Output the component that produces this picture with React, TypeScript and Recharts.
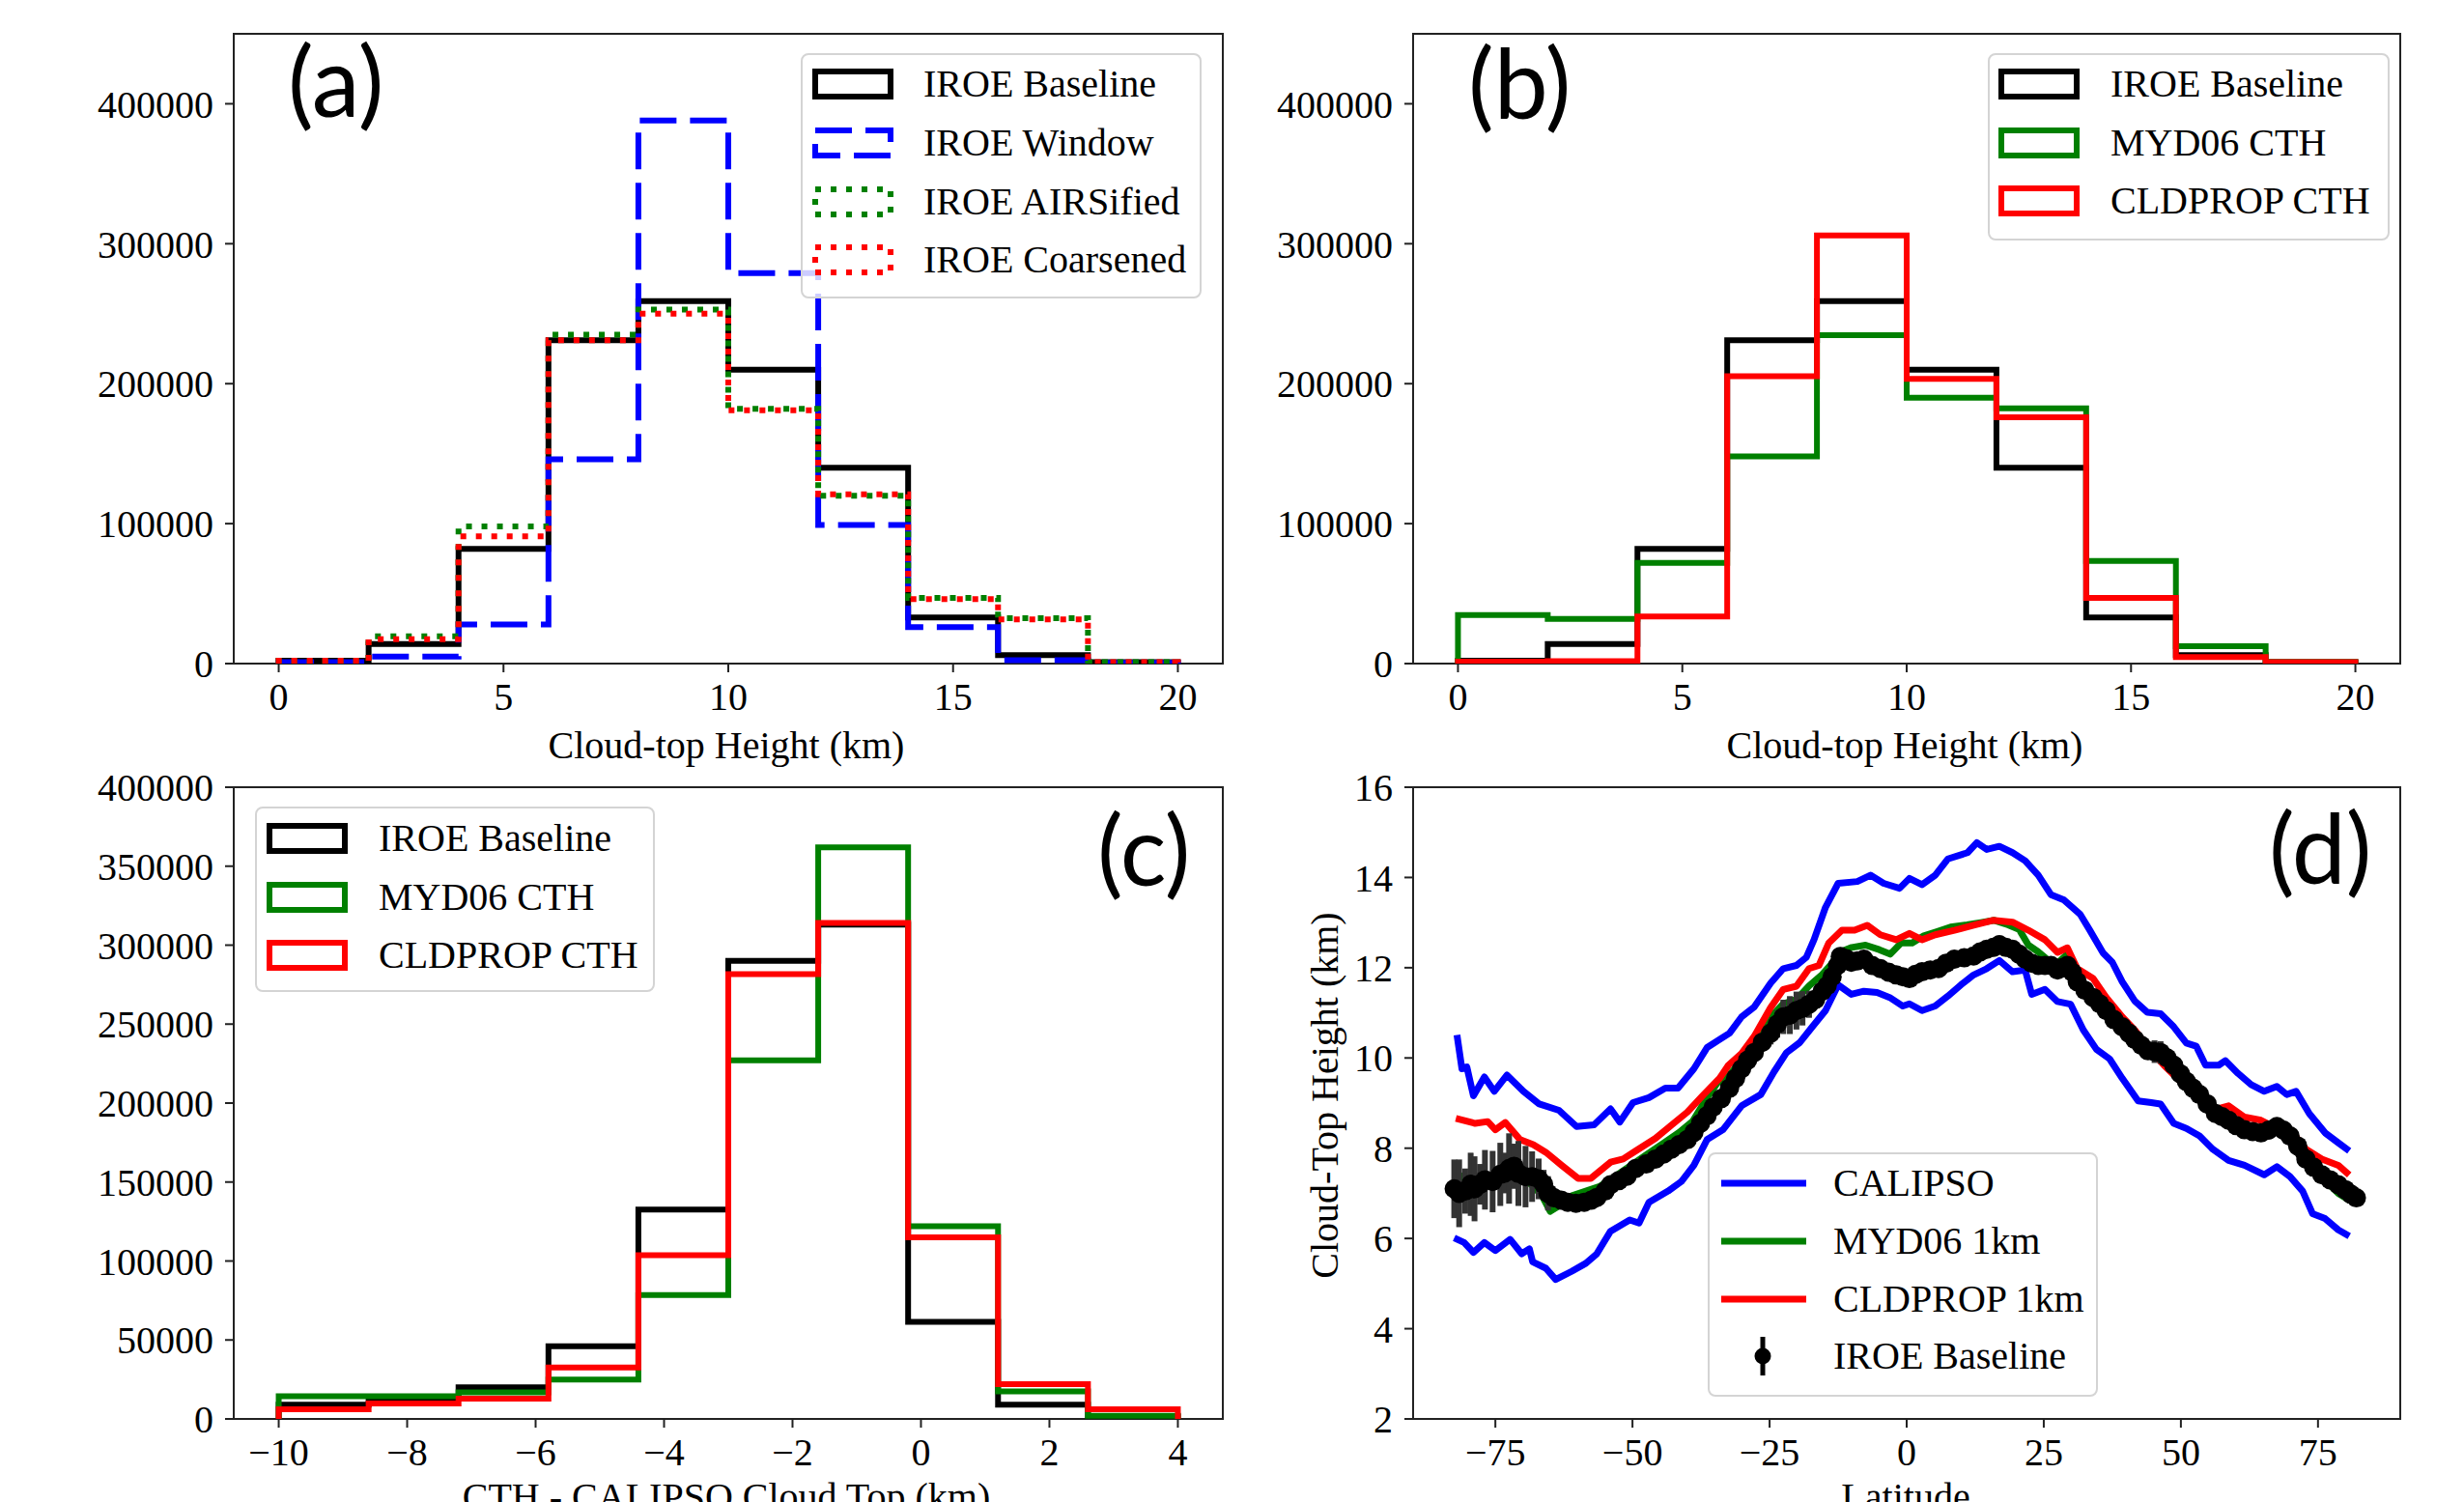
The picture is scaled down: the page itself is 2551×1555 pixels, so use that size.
import React from "react";
import { LineChart, Line, XAxis, YAxis, ReferenceArea, ErrorBar } from "recharts";

const SERIF = '"Liberation Serif", "Times New Roman", serif';
const SANS = 'Lato, "Open Sans", sans-serif';
const AXIS = "#222";

// ---- panels (a) and (b): cloud-top height histograms, 2 km bins ----
const heightEdges = [0, 2, 4, 6, 8, 10, 12, 14, 16, 18, 20];
const iroeBaseline = [2000, 14000, 82000, 231000, 259000, 210000, 140000, 33000, 6000, 1000];
const iroeWindow = [1000, 5000, 28000, 146000, 388000, 279000, 99000, 26000, 2500, 500];
const iroeAirsified = [2000, 19500, 98000, 235000, 253000, 182000, 120000, 47000, 32500, 1000];
const iroeCoarsened = [2000, 17500, 91000, 231000, 250000, 181000, 121000, 46000, 31500, 1000];
const myd06Cth = [34700, 31900, 71900, 148000, 234700, 190000, 182300, 73300, 12400, 1000];
const cldpropCth = [1400, 1800, 33600, 205300, 306000, 203500, 176000, 47000, 4600, 1000];

// ---- panel (c): CTH minus CALIPSO ----
const diffEdges = [-10, -8.6, -7.2, -5.8, -4.4, -3.0, -1.6, -0.2, 1.2, 2.6, 4.0];
const diffBaseline = [9000, 13000, 20000, 46000, 132500, 290000, 313000, 61500, 9000, 1500];
const diffMyd06 = [14300, 14300, 16800, 25000, 78400, 227000, 362000, 122000, 17400, 2000];
const diffCldprop = [6100, 9800, 12800, 32600, 103700, 281700, 314000, 115000, 22000, 6100];

// ---- ticks ----
const heightTicks = [0, 5, 10, 15, 20];
const countTicksAB = [0, 100000, 200000, 300000, 400000];
const diffTicks = [-10, -8, -6, -4, -2, 0, 2, 4];
const countTicksC = [0, 50000, 100000, 150000, 200000, 250000, 300000, 350000, 400000];
const latTicks = [-75, -50, -25, 0, 25, 50, 75];
const cthTicks = [2, 4, 6, 8, 10, 12, 14, 16];

// ---- panel (d): zonal mean cloud-top height, [latitude, km] ----
const calipsoUpper: [number, number][] = [
  [-82.0, 10.51], [-81.1, 9.76], [-80.2, 9.8], [-79.0, 9.16], [-77.0, 9.58], [-75.2, 9.26],
  [-72.9, 9.62], [-69.9, 9.26], [-67.0, 8.98], [-63.4, 8.84], [-60.2, 8.48], [-57.0, 8.52],
  [-54.0, 8.87], [-52.3, 8.58], [-49.9, 9.01], [-47.0, 9.12], [-44.0, 9.33], [-41.7, 9.33],
  [-38.8, 9.76], [-36.4, 10.23], [-32.3, 10.55], [-30.1, 10.91], [-27.8, 11.13], [-24.8, 11.66],
  [-22.5, 11.98], [-20.1, 12.05], [-18.3, 12.23], [-16.9, 12.62], [-14.8, 13.34], [-12.5, 13.87],
  [-9.0, 13.91], [-6.6, 14.05], [-4.2, 13.87], [-1.3, 13.76], [0.5, 13.98], [2.8, 13.84],
  [5.2, 14.05], [7.5, 14.41], [11.1, 14.55], [12.8, 14.77], [14.6, 14.62], [16.9, 14.69],
  [19.3, 14.55], [21.6, 14.37], [24.0, 14.05], [26.3, 13.62], [28.7, 13.5], [31.6, 13.19],
  [33.4, 12.83], [35.8, 12.33], [37.5, 12.12], [39.3, 11.69], [41.6, 11.26], [43.9, 11.01],
  [46.3, 10.98], [48.7, 10.69], [51.0, 10.33], [52.8, 10.26], [54.5, 9.84], [56.9, 9.84],
  [58.1, 9.94], [60.4, 9.66], [62.8, 9.41], [65.2, 9.26], [67.5, 9.37], [69.3, 9.19],
  [71.0, 9.26], [73.4, 8.77], [76.3, 8.34], [78.7, 8.12], [80.7, 7.94],
];
const calipsoLower: [number, number][] = [
  [-82.5, 6.01], [-80.7, 5.91], [-79.0, 5.69], [-77.0, 5.91], [-75.0, 5.73], [-72.3, 5.98],
  [-70.2, 5.66], [-68.8, 5.77], [-68.2, 5.48], [-65.8, 5.34], [-64.0, 5.09], [-61.1, 5.27],
  [-58.5, 5.45], [-56.5, 5.66], [-54.0, 6.16], [-50.5, 6.41], [-48.8, 6.34], [-47.0, 6.8],
  [-43.5, 7.05], [-41.1, 7.26], [-38.8, 7.62], [-36.4, 8.19], [-33.5, 8.41], [-30.1, 8.94],
  [-26.6, 9.19], [-24.2, 9.69], [-21.9, 10.12], [-19.5, 10.34], [-17.2, 10.69], [-14.8, 11.05],
  [-12.5, 11.62], [-10.1, 11.41], [-7.8, 11.48], [-5.4, 11.45], [-3.1, 11.34], [-0.7, 11.15],
  [0.5, 11.2], [2.8, 11.05], [5.2, 11.15], [7.5, 11.37], [9.9, 11.62], [12.2, 11.84],
  [14.6, 11.98], [16.9, 12.16], [19.3, 11.91], [21.6, 11.95], [22.8, 11.41], [25.2, 11.52],
  [27.5, 11.25], [29.9, 11.19], [32.2, 10.62], [34.6, 10.19], [37.0, 9.98], [39.3, 9.55],
  [42.2, 9.05], [44.6, 9.01], [46.3, 8.98], [48.7, 8.55], [51.0, 8.44], [53.4, 8.27],
  [55.8, 7.98], [58.7, 7.73], [61.6, 7.62], [65.2, 7.41], [67.5, 7.59], [69.9, 7.37],
  [72.2, 7.05], [74.0, 6.55], [76.3, 6.44], [78.7, 6.19], [80.7, 6.05],
];
const myd06Lat: [number, number][] = [
  [-82.3, 7.45], [-80.0, 7.3], [-77.5, 7.15], [-75.5, 7.25], [-73.0, 7.15], [-70.5, 7.3],
  [-68.5, 7.2], [-66.5, 6.95], [-65.0, 6.6], [-63.0, 6.75], [-61.0, 6.95], [-58.5, 7.05],
  [-56.0, 7.15], [-53.5, 7.35], [-50.5, 7.6], [-47.5, 7.85], [-44.5, 8.1], [-41.5, 8.35],
  [-39.0, 8.6], [-36.5, 9.1], [-34.5, 9.45], [-32.5, 9.6], [-30.1, 9.95], [-27.8, 10.35],
  [-24.8, 10.9], [-22.5, 11.2], [-20.1, 11.3], [-17.8, 11.6], [-15.4, 11.85], [-13.6, 12.1],
  [-12.1, 12.35], [-10.0, 12.45], [-7.5, 12.5], [-5.0, 12.4], [-3.0, 12.3], [-1.0, 12.55],
  [1.0, 12.55], [3.0, 12.7], [5.5, 12.8], [8.0, 12.9], [11.0, 12.95], [13.5, 13.0],
  [16.0, 13.05], [18.5, 12.95], [20.5, 12.85], [22.2, 12.5], [24.0, 12.35], [26.0, 12.15],
  [27.5, 12.1], [29.3, 12.3], [31.1, 11.8], [34.0, 11.4], [36.4, 11.1], [39.3, 10.75],
  [41.6, 10.45], [44.0, 10.2], [46.9, 9.9], [49.9, 9.5], [52.8, 9.2], [55.8, 8.8],
  [58.7, 8.7], [61.6, 8.5], [64.6, 8.4], [67.5, 8.45], [70.4, 8.25], [72.8, 7.75],
  [75.7, 7.35], [78.7, 7.0], [80.7, 6.85], [82.0, 6.8],
];
const cldpropLat: [number, number][] = [
  [-82.2, 8.66], [-78.7, 8.55], [-76.4, 8.59], [-75.0, 8.41], [-73.2, 8.57], [-70.5, 8.19],
  [-68.1, 8.08], [-65.8, 7.91], [-62.9, 7.62], [-59.9, 7.33], [-57.6, 7.33], [-54.0, 7.69],
  [-51.7, 7.76], [-49.4, 7.94], [-45.8, 8.22], [-42.9, 8.51], [-40.0, 8.8], [-37.0, 9.19],
  [-34.1, 9.55], [-32.5, 9.84], [-30.1, 10.1], [-27.8, 10.48], [-24.8, 11.12], [-22.5, 11.52],
  [-20.1, 11.59], [-17.8, 11.98], [-16.0, 12.05], [-14.2, 12.55], [-11.8, 12.83], [-9.5, 12.83],
  [-7.2, 12.94], [-4.8, 12.73], [-1.9, 12.62], [0.5, 12.76], [2.8, 12.62], [5.2, 12.73],
  [8.7, 12.83], [12.2, 12.94], [15.7, 13.05], [19.3, 13.01], [22.2, 12.83], [25.2, 12.62],
  [27.5, 12.34], [29.3, 12.44], [31.1, 11.98], [34.0, 11.76], [36.4, 11.34], [39.3, 10.91],
  [41.6, 10.62], [44.0, 10.23], [46.9, 9.84], [49.9, 9.48], [52.8, 9.19], [55.8, 8.84],
  [58.7, 8.94], [61.6, 8.69], [64.6, 8.62], [67.5, 8.44], [70.4, 8.34], [72.8, 7.98],
  [75.7, 7.76], [78.7, 7.62], [80.7, 7.41],
];
// [latitude, km, error half-width]
const iroeLat: [number, number, number][] = [
  [-82.5, 7.1, 0.65], [-81.6, 7.0, 0.75], [-80.5, 7.05, 0.5], [-79.5, 7.2, 0.7], [-78.8, 7.1, 0.72],
  [-77.8, 7.2, 0.45], [-76.9, 7.3, 0.66], [-75.5, 7.26, 0.68], [-74.1, 7.42, 0.7], [-73.3, 7.45, 0.45],
  [-72.5, 7.55, 0.78], [-71.6, 7.6, 0.5], [-70.8, 7.44, 0.72], [-69.5, 7.37, 0.68], [-68.3, 7.37, 0.56],
  [-67.1, 7.32, 0.45], [-66.2, 7.2, 0.32], [-65.4, 7.0, 0.38], [-64.3, 6.9, 0.2], [-63.0, 6.85, 0.15],
  [-61.8, 6.8, 0.12], [-60.3, 6.78, 0.1], [-58.8, 6.8, 0.1], [-57.5, 6.85, 0.1], [-56.5, 6.91, 0.1],
  [-55.0, 7.05, 0.1], [-54.0, 7.19, 0.1], [-52.5, 7.28, 0.1], [-51.0, 7.38, 0.1], [-49.4, 7.55, 0.1],
  [-47.5, 7.65, 0.1], [-45.8, 7.76, 0.1], [-44.3, 7.87, 0.1], [-42.9, 7.98, 0.1], [-41.5, 8.08, 0.1],
  [-40.0, 8.19, 0.1], [-38.8, 8.35, 0.12], [-37.6, 8.55, 0.12], [-36.4, 8.72, 0.12], [-35.3, 8.91, 0.12],
  [-33.8, 9.1, 0.15], [-32.3, 9.33, 0.15], [-31.2, 9.55, 0.2], [-30.1, 9.76, 0.2], [-29.0, 9.95, 0.2],
  [-27.8, 10.12, 0.2], [-26.3, 10.35, 0.2], [-24.8, 10.55, 0.25], [-23.6, 10.75, 0.3], [-22.5, 10.91, 0.38],
  [-21.3, 10.95, 0.42], [-20.1, 11.05, 0.42], [-19.0, 11.1, 0.38], [-17.8, 11.19, 0.3], [-16.6, 11.3, 0.2],
  [-15.4, 11.48, 0.2], [-14.5, 11.6, 0.2], [-13.6, 11.8, 0.2], [-12.6, 12.05, 0.2], [-12.1, 12.25, 0.2],
  [-11.0, 12.2, 0.15], [-10.1, 12.12, 0.15], [-9.0, 12.15, 0.15], [-7.8, 12.19, 0.15], [-6.3, 12.05, 0.15],
  [-4.8, 11.98, 0.15], [-3.3, 11.9, 0.15], [-1.9, 11.84, 0.15], [-0.7, 11.8, 0.15], [0.5, 11.76, 0.15],
  [1.6, 11.85, 0.12], [2.8, 11.91, 0.1], [4.3, 11.95, 0.1], [5.8, 11.98, 0.1], [7.2, 12.1, 0.1],
  [8.7, 12.19, 0.1], [10.5, 12.22, 0.12], [12.2, 12.26, 0.15], [13.4, 12.35, 0.15], [14.6, 12.41, 0.15],
  [15.8, 12.45, 0.2], [16.9, 12.51, 0.2], [18.1, 12.45, 0.15], [19.3, 12.41, 0.15], [20.5, 12.3, 0.1],
  [21.6, 12.19, 0.1], [22.8, 12.1, 0.1], [24.0, 12.05, 0.1], [25.2, 12.05, 0.1], [26.3, 12.05, 0.15],
  [27.5, 11.95, 0.15], [28.4, 12.0, 0.1], [29.3, 12.05, 0.1], [30.2, 11.9, 0.1], [31.1, 11.69, 0.1],
  [32.5, 11.5, 0.1], [34.0, 11.34, 0.1], [35.2, 11.2, 0.1], [36.4, 11.05, 0.1], [37.8, 10.85, 0.1],
  [39.3, 10.69, 0.1], [40.5, 10.55, 0.1], [41.6, 10.41, 0.1], [42.8, 10.28, 0.12], [44.0, 10.16, 0.15],
  [45.2, 10.14, 0.25], [46.3, 10.12, 0.25], [47.5, 10.0, 0.2], [48.7, 9.84, 0.2], [49.9, 9.65, 0.2],
  [51.0, 9.48, 0.15], [52.2, 9.33, 0.15], [53.4, 9.19, 0.15], [54.8, 8.98, 0.1], [56.3, 8.77, 0.1],
  [57.5, 8.7, 0.1], [58.7, 8.62, 0.1], [60.1, 8.5, 0.1], [61.6, 8.41, 0.1], [63.1, 8.37, 0.1],
  [64.6, 8.34, 0.15], [66.0, 8.4, 0.2], [67.5, 8.48, 0.2], [68.7, 8.4, 0.2], [69.9, 8.27, 0.15],
  [71.3, 8.05, 0.1], [72.8, 7.76, 0.1], [74.2, 7.58, 0.1], [75.7, 7.41, 0.1], [77.2, 7.3, 0.1],
  [78.7, 7.19, 0.1], [80.0, 7.08, 0.1], [81.0, 6.98, 0.1], [82.0, 6.9, 0.1],
];

type Pt = { x: number; y: number; err?: number };

// histtype="step" outline: up from zero at the first edge, down to zero at the last
function stepOutline(edges: number[], counts: number[]): Pt[] {
  const pts: Pt[] = [{ x: edges[0], y: 0 }];
  counts.forEach((c, i) => pts.push({ x: edges[i], y: c }));
  const last = edges[edges.length - 1];
  pts.push({ x: last, y: counts[counts.length - 1] });
  pts.push({ x: last, y: 0 });
  return pts;
}

const toPts = (arr: [number, number][]): Pt[] => arr.map(([x, y]) => ({ x, y }));

type Box = { x: number; y: number; w: number; h: number };

const tickStyle = { fontSize: 40, fontFamily: SERIF, fill: "#000" };
const minus = (v: number) => String(v).replace("-", "\u2212");

const YW = 190;
const MT = 30;
const MR = 40;
const XH = 90;

function Panel({
  box,
  xDomain,
  xTicks,
  yDomain,
  yTicks,
  children,
}: {
  box: Box;
  xDomain: [number, number];
  xTicks: number[];
  yDomain: [number, number];
  yTicks: number[];
  children: React.ReactNode;
}) {
  return (
    <div style={{ position: "absolute", left: box.x - YW, top: box.y - MT }}>
      <LineChart
        width={YW + box.w + MR}
        height={MT + box.h + XH}
        margin={{ top: MT, right: MR, left: 0, bottom: 0 }}
      >
        <XAxis
          type="number"
          dataKey="x"
          domain={xDomain}
          ticks={xTicks}
          interval={0}
          allowDataOverflow
          axisLine={false}
          tickLine={{ stroke: AXIS, strokeWidth: 2 }}
          tickSize={9}
          tickMargin={11}
          tick={tickStyle}
          tickFormatter={minus}
          height={XH}
        />
        <YAxis
          type="number"
          domain={yDomain}
          ticks={yTicks}
          interval={0}
          allowDataOverflow
          axisLine={false}
          tickLine={{ stroke: AXIS, strokeWidth: 2 }}
          tickSize={9}
          tickMargin={12}
          tick={tickStyle}
          width={YW}
        />
        {children}
        <ReferenceArea
          x1={xDomain[0]}
          x2={xDomain[1]}
          y1={yDomain[0]}
          y2={yDomain[1]}
          fill="none"
          fillOpacity={0}
          stroke={AXIS}
          strokeWidth={2}
          ifOverflow="visible"
        />
      </LineChart>
    </div>
  );
}

function histLine(key: string, edges: number[], counts: number[], color: string, dash?: string) {
  return (
    <Line
      key={key}
      data={stepOutline(edges, counts)}
      dataKey="y"
      type="stepAfter"
      stroke={color}
      strokeWidth={6}
      strokeDasharray={dash}
      dot={false}
      activeDot={false}
      isAnimationActive={false}
    />
  );
}

function latLine(key: string, arr: [number, number][], color: string) {
  return (
    <Line
      key={key}
      data={toPts(arr)}
      dataKey="y"
      type="linear"
      stroke={color}
      strokeWidth={7}
      strokeLinejoin="round"
      dot={false}
      activeDot={false}
      isAnimationActive={false}
    />
  );
}

const patchIcon = (color: string, dash?: string) => (
  <svg width={84} height={32}>
    <rect x={3} y={3} width={78} height={26} fill="none" stroke={color} strokeWidth={6} strokeDasharray={dash} />
  </svg>
);
const lineIcon = (color: string) => (
  <svg width={88} height={10}>
    <line x1={0} x2={88} y1={5} y2={5} stroke={color} strokeWidth={7} />
  </svg>
);
const markerIcon = (
  <svg width={88} height={44}>
    <line x1={43} x2={43} y1={2} y2={42} stroke="#000" strokeWidth={5} />
    <circle cx={43} cy={22} r={8.5} fill="#000" />
  </svg>
);

function LegendBox({
  box,
  iconX,
  textX,
  rows,
  items,
}: {
  box: Box;
  iconX: number;
  textX: number;
  rows: number[];
  items: { label: string; icon: React.ReactNode }[];
}) {
  return (
    <div
      style={{
        position: "absolute",
        left: box.x,
        top: box.y,
        width: box.w,
        height: box.h,
        boxSizing: "border-box",
        border: "2px solid #d4d4d4",
        borderRadius: 8,
        background: "rgba(255,255,255,0.8)",
      }}
    >
      {items.map((it, i) => (
        <React.Fragment key={it.label}>
          <div
            style={{
              position: "absolute",
              left: iconX - box.x - 2,
              top: rows[i] - box.y - 2 - 25,
              height: 50,
              display: "flex",
              alignItems: "center",
            }}
          >
            {it.icon}
          </div>
          <div
            style={{
              position: "absolute",
              left: textX - box.x - 2,
              top: rows[i] - box.y - 2 - 20,
              height: 40,
              lineHeight: "40px",
              fontFamily: SERIF,
              fontSize: 40,
              whiteSpace: "nowrap",
              color: "#000",
            }}
          >
            {it.label}
          </div>
        </React.Fragment>
      ))}
    </div>
  );
}

function Text({ x, y, size, font, children, center }: { x: number; y: number; size: number; font: string; children: React.ReactNode; center?: boolean }) {
  return (
    <div
      style={{
        position: "absolute",
        left: x,
        top: y,
        fontFamily: font,
        fontSize: size,
        lineHeight: 1,
        whiteSpace: "nowrap",
        color: "#000",
        transform: center ? "translateX(-50%)" : undefined,
      }}
    >
      {children}
    </div>
  );
}

const boxA: Box = { x: 242, y: 35, w: 1024, h: 652 };
const boxB: Box = { x: 1463, y: 35, w: 1022, h: 652 };
const boxC: Box = { x: 242, y: 815, w: 1024, h: 654 };
const boxD: Box = { x: 1463, y: 815, w: 1022, h: 654 };

export default function App() {
  const errPts: Pt[] = iroeLat.map(([x, y, err]) => ({ x, y, err }));
  return (
    <div
      style={{
        position: "absolute",
        left: 0,
        top: 0,
        width: 2551,
        height: 1555,
        overflow: "hidden",
        background: "#fff",
      }}
    >
      <Panel box={boxA} xDomain={[-1, 21]} xTicks={heightTicks} yDomain={[0, 450000]} yTicks={countTicksAB}>
        {histLine("a-base", heightEdges, iroeBaseline, "#000")}
        {histLine("a-win", heightEdges, iroeWindow, "#0000ff", "38 14")}
        {histLine("a-airs", heightEdges, iroeAirsified, "#008000", "6 10")}
        {histLine("a-coarse", heightEdges, iroeCoarsened, "#ff0000", "6 10")}
      </Panel>
      <Panel box={boxB} xDomain={[-1, 21]} xTicks={heightTicks} yDomain={[0, 450000]} yTicks={countTicksAB}>
        {histLine("b-base", heightEdges, iroeBaseline, "#000")}
        {histLine("b-myd", heightEdges, myd06Cth, "#008000")}
        {histLine("b-cld", heightEdges, cldpropCth, "#ff0000")}
      </Panel>
      <Panel box={boxC} xDomain={[-10.7, 4.7]} xTicks={diffTicks} yDomain={[0, 400000]} yTicks={countTicksC}>
        {histLine("c-base", diffEdges, diffBaseline, "#000")}
        {histLine("c-myd", diffEdges, diffMyd06, "#008000")}
        {histLine("c-cld", diffEdges, diffCldprop, "#ff0000")}
      </Panel>
      <Panel box={boxD} xDomain={[-90, 90]} xTicks={latTicks} yDomain={[2, 16]} yTicks={cthTicks}>
        {latLine("d-up", calipsoUpper, "#0000ff")}
        {latLine("d-lo", calipsoLower, "#0000ff")}
        {latLine("d-myd", myd06Lat, "#008000")}
        {latLine("d-cld", cldpropLat, "#ff0000")}
        <Line
          key="d-err"
          data={errPts}
          dataKey="y"
          stroke="none"
          dot={false}
          activeDot={false}
          isAnimationActive={false}
        >
          <ErrorBar dataKey="err" direction="y" width={0} strokeWidth={6} stroke="#333" isAnimationActive={false} />
        </Line>
        <Line
          key="d-iroe"
          data={errPts}
          dataKey="y"
          type="linear"
          stroke="#000"
          strokeWidth={15}
          strokeLinejoin="round"
          dot={{ r: 10, fill: "#000", stroke: "none" }}
          activeDot={false}
          isAnimationActive={false}
        />
      </Panel>

      {/* axis titles */}
      <Text x={752} y={752} size={40} font={SERIF} center>Cloud-top Height (km)</Text>
      <Text x={1972} y={752} size={40} font={SERIF} center>Cloud-top Height (km)</Text>
      <Text x={752} y={1530} size={40} font={SERIF} center>CTH - CALIPSO Cloud Top (km)</Text>
      <Text x={1973} y={1530} size={40} font={SERIF} center>Latitude</Text>
      <div
        style={{
          position: "absolute",
          left: 1372,
          top: 1134,
          fontFamily: SERIF,
          fontSize: 40,
          lineHeight: 1,
          whiteSpace: "nowrap",
          transform: "translate(-50%, -50%) rotate(-90deg)",
        }}
      >
        Cloud-Top Height (km)
      </div>

      {/* legends */}
      <LegendBox
        box={{ x: 829, y: 55, w: 415, h: 254 }}
        iconX={841}
        textX={956}
        rows={[87, 148, 209, 269]}
        items={[
          { label: "IROE Baseline", icon: patchIcon("#000") },
          { label: "IROE Window", icon: patchIcon("#0000ff", "38 14") },
          { label: "IROE AIRSified", icon: patchIcon("#008000", "6 10") },
          { label: "IROE Coarsened", icon: patchIcon("#ff0000", "6 10") },
        ]}
      />
      <LegendBox
        box={{ x: 2058, y: 55, w: 416, h: 194 }}
        iconX={2069}
        textX={2185}
        rows={[87, 148, 208]}
        items={[
          { label: "IROE Baseline", icon: patchIcon("#000") },
          { label: "MYD06 CTH", icon: patchIcon("#008000") },
          { label: "CLDPROP CTH", icon: patchIcon("#ff0000") },
        ]}
      />
      <LegendBox
        box={{ x: 264, y: 835, w: 414, h: 192 }}
        iconX={276}
        textX={392}
        rows={[868, 929, 989]}
        items={[
          { label: "IROE Baseline", icon: patchIcon("#000") },
          { label: "MYD06 CTH", icon: patchIcon("#008000") },
          { label: "CLDPROP CTH", icon: patchIcon("#ff0000") },
        ]}
      />
      <LegendBox
        box={{ x: 1768, y: 1193, w: 404, h: 253 }}
        iconX={1782}
        textX={1898}
        rows={[1225, 1285, 1345, 1404]}
        items={[
          { label: "CALIPSO", icon: lineIcon("#0000ff") },
          { label: "MYD06 1km", icon: lineIcon("#008000") },
          { label: "CLDPROP 1km", icon: lineIcon("#ff0000") },
          { label: "IROE Baseline", icon: markerIcon },
        ]}
      />

      {/* panel letters */}
      <Text x={298} y={32} size={100} font={SANS}>(a)</Text>
      <Text x={1520} y={34} size={100} font={SANS}>(b)</Text>
      <Text x={1136} y={828} size={100} font={SANS}>(c)</Text>
      <Text x={2349} y={826} size={100} font={SANS}>(d)</Text>
    </div>
  );
}
